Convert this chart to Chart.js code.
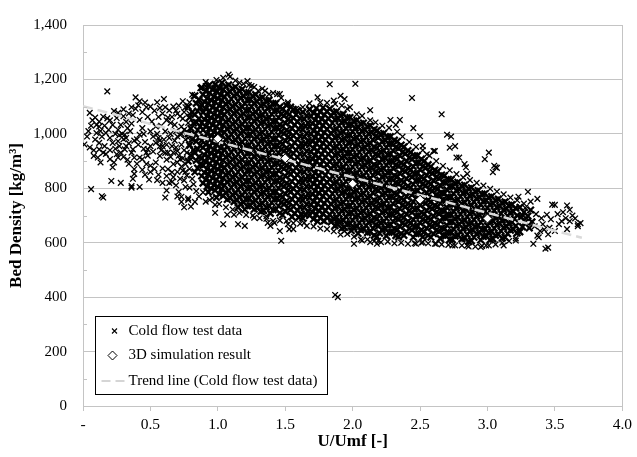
<!DOCTYPE html>
<html>
<head>
  <title>Bed Density vs U/Umf</title>
  <style>
    body { margin: 0; background: #fff; }
    canvas { display: block; }
  </style>
</head>
<body>
  <canvas id="chart" width="637" height="457"></canvas>

  <script src="https://cdn.jsdelivr.net/npm/chart.js"></script>
  <script>
    // Cold flow test data: U/Umf x100, bed density [kg/m3]
    const coldFlowLeft = [
      1,961, 5,1077, 18,1156, 6,797, 15,766, 14,771, 21,827, 28,820, 36,802, 36,808, 37,835, 38,853, 42,805, 49,832,
      61,766, 75,730, 80,733, 78,763, 39,1134, 42,1120, 55,1116, 60,1128, 71,1104, 74,1120, 81,1144, 82,1139, 88,1170,
      23,1084, 26,1077, 10,1033, 12,1027, 9,979, 12,967, 12,943, 15,931, 17,926, 20,907, 23,895, 22,877, 26,913, 28,931,
      22,967, 26,973, 31,997, 32,985, 33,1021, 36,1038, 32,1044, 22,1033, 28,1033, 42,1051, 37,1069, 36,1098, 39,1092,
      44,1080, 47,1098, 48,1062, 51,1045, 56,1062, 54,1027, 50,1009, 44,1021, 42,997, 32,955, 31,943, 37,943, 36,931,
      38,913, 42,913, 44,907, 47,931, 48,943, 50,955, 54,967, 56,985, 61,1009, 60,979, 64,985, 66,955, 67,931, 70,937,
      63,931, 57,919, 54,895, 50,883, 47,889, 53,871, 59,873, 67,889, 70,895, 72,907, 66,859, 67,841, 72,835, 75,829,
      69,811, 76,805, 71,787, 79,802, 61,1098, 64,1086, 66,1062, 70,1074, 74,1056, 76,1098, 79,1116, 79,1074, 68,1033,
      73,1027, 77,1009, 72,997, 76,979, 79,955, 77,931, 80,907, 76,889, 79,871, 74,865, 77,847, 81,835, 12,1045, 15,1063,
      18,1057, 10,1003, 17,1003, 20,985, 11,913, 13,895, 8,919, 4,1010, 7,1050, 25,1058, 30,1065, 45,1000, 58,940, 62,905,
      65,1040, 69,1010, 73,960, 75,940, 78,1040, 63,1060, 58,1030, 52,990, 46,970, 40,980, 35,1010, 29,1000, 26,1015,
      19,1015, 14,990, 27,955, 24,945, 33,905, 40,890, 44,868, 56,850, 62,845, 64,820, 66,823, 62,792, 70,770, 73,750,
      30,1090, 34,1075, 41,1105, 46,1115, 50,1100, 53,1085, 57,1095, 59,1075, 62,1050, 67,1100, 69,1085, 72,1065,
      75,1080, 55,1000, 57,975, 59,955, 62,960, 65,1000, 68,975, 70,990, 73,1000, 75,1015, 78,985, 74,910, 71,920,
      69,950, 65,915, 61,930, 57,955, 52,935, 48,920, 45,945, 41,960, 38,975, 34,965, 30,980, 27,995, 24,1000, 20,1050,
      16,1030, 13,1010, 9,1060, 6,1030, 3,990, 5,950, 8,940, 16,955, 20,940, 25,925, 30,915, 34,890, 38,870, 46,850,
      50,860, 55,830, 59,820, 63,870, 70,860, 73,880, 76,860, 82,815, 84,790, 86,770, 83,750
    ];

    const coldFlowCoreA = [
      78,1100, 81,1080, 79,1060, 82,1040, 80,1020, 78,1000, 81,980, 79,960, 82,940, 80,920, 78,900,
      83,1140, 86,1126, 84,1112, 87,1098, 85,1084, 83,1070, 86,1056, 84,1042, 87,1028, 85,1014, 83,1000, 86,986, 84,972, 87,958, 85,944, 83,930, 86,916, 84,902, 87,888, 85,874, 83,860,
      88,1170, 91,1157, 89,1144, 92,1131, 90,1118, 88,1105, 91,1092, 89,1079, 92,1066, 90,1053, 88,1040, 91,1027, 89,1014, 92,1001, 90,988, 88,975, 91,962, 89,949, 92,936, 90,923, 88,910, 91,897, 89,884, 92,871, 90,858, 88,845, 91,832, 89,819, 92,806,
      93,1176, 96,1163, 94,1150, 97,1137, 95,1124, 93,1111, 96,1098, 94,1085, 97,1072, 95,1059, 93,1046, 96,1033, 94,1020, 97,1007, 95,994, 93,981, 96,968, 94,955, 97,942, 95,929, 93,916, 96,903, 94,890, 97,877, 95,864, 93,851, 96,838, 94,825, 97,812, 95,799, 93,786,
      98,1182, 101,1169, 99,1156, 102,1143, 100,1130, 98,1117, 101,1104, 99,1091, 102,1078, 100,1065, 98,1052, 101,1039, 99,1026, 102,1013, 100,1000, 98,987, 101,974, 99,961, 102,948, 100,935, 98,922, 101,909, 99,896, 102,883, 100,870, 98,857, 101,844, 99,831, 102,818, 100,805, 98,792, 101,779, 99,766,
      103,1188, 106,1175, 104,1162, 107,1149, 105,1136, 103,1123, 106,1110, 104,1097, 107,1084, 105,1071, 103,1058, 106,1045, 104,1032, 107,1019, 105,1006, 103,993, 106,980, 104,967, 107,954, 105,941, 103,928, 106,915, 104,902, 107,889, 105,876, 103,863, 106,850, 104,837, 107,824, 105,811, 103,798, 106,785, 104,772, 107,759,
      108,1180, 111,1167, 109,1154, 112,1141, 110,1128, 108,1115, 111,1102, 109,1089, 112,1076, 110,1063, 108,1050, 111,1037, 109,1024, 112,1011, 110,998, 108,985, 111,972, 109,959, 112,946, 110,933, 108,920, 111,907, 109,894, 112,881, 110,868, 108,855, 111,842, 109,829, 112,816, 110,803, 108,790, 111,777, 109,764, 112,751,
      113,1172, 116,1159, 114,1146, 117,1133, 115,1120, 113,1107, 116,1094, 114,1081, 117,1068, 115,1055, 113,1042, 116,1029, 114,1016, 117,1003, 115,990, 113,977, 116,964, 114,951, 117,938, 115,925, 113,912, 116,899, 114,886, 117,873, 115,860, 113,847, 116,834, 114,821, 117,808, 115,795, 113,782, 116,769, 114,756, 117,743, 115,730,
      118,1164, 121,1151, 119,1138, 122,1125, 120,1112, 118,1099, 121,1086, 119,1073, 122,1060, 120,1047, 118,1034, 121,1021, 119,1008, 122,995, 120,982, 118,969, 121,956, 119,943, 122,930, 120,917, 118,904, 121,891, 119,878, 122,865, 120,852, 118,839, 121,826, 119,813, 122,800, 120,787, 118,774, 121,761, 119,748, 122,735, 120,722,
      123,1152, 126,1139, 124,1126, 127,1113, 125,1100, 123,1087, 126,1074, 124,1061, 127,1048, 125,1035, 123,1022, 126,1009, 124,996, 127,983, 125,970, 123,957, 126,944, 124,931, 127,918, 125,905, 123,892, 126,879, 124,866, 127,853, 125,840, 123,827, 126,814, 124,801, 127,788, 125,775, 123,762, 126,749, 124,736, 127,723,
      128,1144, 131,1131, 129,1118, 132,1105, 130,1092, 128,1079, 131,1066, 129,1053, 132,1040, 130,1027, 128,1014, 131,1001, 129,988, 132,975, 130,962, 128,949, 131,936, 129,923, 132,910, 130,897, 128,884, 131,871, 129,858, 132,845, 130,832, 128,819, 131,806, 129,793, 132,780, 130,767, 128,754, 131,741, 129,728, 132,715,
      133,1134, 136,1121, 134,1108, 137,1095, 135,1082, 133,1069, 136,1056, 134,1043, 137,1030, 135,1017, 133,1004, 136,991, 134,978, 137,965, 135,952, 133,939, 136,926, 134,913, 137,900, 135,887, 133,874, 136,861, 134,848, 137,835, 135,822, 133,809, 136,796, 134,783, 137,770, 135,757, 133,744, 136,731, 134,718,
      138,1124, 141,1111, 139,1098, 142,1085, 140,1072, 138,1059, 141,1046, 139,1033, 142,1020, 140,1007, 138,994, 141,981, 139,968, 142,955, 140,942, 138,929, 141,916, 139,903, 142,890, 140,877, 138,864, 141,851, 139,838, 142,825, 140,812, 138,799, 141,786, 139,773, 142,760, 140,747, 138,734, 141,721, 139,708,
      143,1112, 146,1099, 144,1086, 147,1073, 145,1060, 143,1047, 146,1034, 144,1021, 147,1008, 145,995, 143,982, 146,969, 144,956, 147,943, 145,930, 143,917, 146,904, 144,891, 147,878, 145,865, 143,852, 146,839, 144,826, 147,813, 145,800, 143,787, 146,774, 144,761, 147,748, 145,735, 143,722, 146,709
    ];

    const coldFlowCoreB = [
      151,1104, 154,1098, 156,1090, 159,1086,
      148,1092, 151,1079, 149,1066, 152,1053, 150,1040, 148,1027, 151,1014, 149,1001, 152,988, 150,975, 148,962, 151,949, 149,936, 152,923, 150,910, 148,897, 151,884, 149,871, 152,858, 150,845, 148,832, 151,819, 149,806, 152,793, 150,780, 148,767, 151,754, 149,741, 152,728, 150,715, 148,702,
      153,1072, 156,1059, 154,1046, 157,1033, 155,1020, 153,1007, 156,994, 154,981, 157,968, 155,955, 153,942, 156,929, 154,916, 157,903, 155,890, 153,877, 156,864, 154,851, 157,838, 155,825, 153,812, 156,799, 154,786, 157,773, 155,760, 153,747, 156,734, 154,721, 157,708, 155,695,
      158,1070, 161,1057, 159,1044, 162,1031, 160,1018, 158,1005, 161,992, 159,979, 162,966, 160,953, 158,940, 161,927, 159,914, 162,901, 160,888, 158,875, 161,862, 159,849, 162,836, 160,823, 158,810, 161,797, 159,784, 162,771, 160,758, 158,745, 161,732, 159,719, 162,706, 160,693,
      163,1080, 166,1067, 164,1054, 167,1041, 165,1028, 163,1015, 166,1002, 164,989, 167,976, 165,963, 163,950, 166,937, 164,924, 167,911, 165,898, 163,885, 166,872, 164,859, 167,846, 165,833, 163,820, 166,807, 164,794, 167,781, 165,768, 163,755, 166,742, 164,729, 167,716, 165,703, 163,690,
      168,1090, 171,1077, 169,1064, 172,1051, 170,1038, 168,1025, 171,1012, 169,999, 172,986, 170,973, 168,960, 171,947, 169,934, 172,921, 170,908, 168,895, 171,882, 169,869, 172,856, 170,843, 168,830, 171,817, 169,804, 172,791, 170,778, 168,765, 171,752, 169,739, 172,726, 170,713, 168,700, 171,687,
      173,1094, 176,1081, 174,1068, 177,1055, 175,1042, 173,1029, 176,1016, 174,1003, 177,990, 175,977, 173,964, 176,951, 174,938, 177,925, 175,912, 173,899, 176,886, 174,873, 177,860, 175,847, 173,834, 176,821, 174,808, 177,795, 175,782, 173,769, 176,756, 174,743, 177,730, 175,717, 173,704, 176,691, 174,678,
      178,1096, 181,1083, 179,1070, 182,1057, 180,1044, 178,1031, 181,1018, 179,1005, 182,992, 180,979, 178,966, 181,953, 179,940, 182,927, 180,914, 178,901, 181,888, 179,875, 182,862, 180,849, 178,836, 181,823, 179,810, 182,797, 180,784, 178,771, 181,758, 179,745, 182,732, 180,719, 178,706, 181,693, 179,680,
      183,1092, 186,1079, 184,1066, 187,1053, 185,1040, 183,1027, 186,1014, 184,1001, 187,988, 185,975, 183,962, 186,949, 184,936, 187,923, 185,910, 183,897, 186,884, 184,871, 187,858, 185,845, 183,832, 186,819, 184,806, 187,793, 185,780, 183,767, 186,754, 184,741, 187,728, 185,715, 183,702, 186,689, 184,676, 187,663,
      188,1082, 191,1069, 189,1056, 192,1043, 190,1030, 188,1017, 191,1004, 189,991, 192,978, 190,965, 188,952, 191,939, 189,926, 192,913, 190,900, 188,887, 191,874, 189,861, 192,848, 190,835, 188,822, 191,809, 189,796, 192,783, 190,770, 188,757, 191,744, 189,731, 192,718, 190,705, 188,692, 191,679, 189,666, 192,653,
      193,1072, 196,1059, 194,1046, 197,1033, 195,1020, 193,1007, 196,994, 194,981, 197,968, 195,955, 193,942, 196,929, 194,916, 197,903, 195,890, 193,877, 196,864, 194,851, 197,838, 195,825, 193,812, 196,799, 194,786, 197,773, 195,760, 193,747, 196,734, 194,721, 197,708, 195,695, 193,682, 196,669, 194,656,
      198,1060, 201,1047, 199,1034, 202,1021, 200,1008, 198,995, 201,982, 199,969, 202,956, 200,943, 198,930, 201,917, 199,904, 202,891, 200,878, 198,865, 201,852, 199,839, 202,826, 200,813, 198,800, 201,787, 199,774, 202,761, 200,748, 198,735, 201,722, 199,709, 202,696, 200,683, 198,670, 201,657, 199,644,
      203,1050, 206,1037, 204,1024, 207,1011, 205,998, 203,985, 206,972, 204,959, 207,946, 205,933, 203,920, 206,907, 204,894, 207,881, 205,868, 203,855, 206,842, 204,829, 207,816, 205,803, 203,790, 206,777, 204,764, 207,751, 205,738, 203,725, 206,712, 204,699, 207,686, 205,673, 203,660, 206,647, 204,634,
      208,1040, 211,1027, 209,1014, 212,1001, 210,988, 208,975, 211,962, 209,949, 212,936, 210,923, 208,910, 211,897, 209,884, 212,871, 210,858, 208,845, 211,832, 209,819, 212,806, 210,793, 208,780, 211,767, 209,754, 212,741, 210,728, 208,715, 211,702, 209,689, 212,676, 210,663, 208,650, 211,637,
      213,1030, 216,1017, 214,1004, 217,991, 215,978, 213,965, 216,952, 214,939, 217,926, 215,913, 213,900, 216,887, 214,874, 217,861, 215,848, 213,835, 216,822, 214,809, 217,796, 215,783, 213,770, 216,757, 214,744, 217,731, 215,718, 213,705, 216,692, 214,679, 217,666, 215,653, 213,640, 216,627,
      218,1012, 221,999, 219,986, 222,973, 220,960, 218,947, 221,934, 219,921, 222,908, 220,895, 218,882, 221,869, 219,856, 222,843, 220,830, 218,817, 221,804, 219,791, 222,778, 220,765, 218,752, 221,739, 219,726, 222,713, 220,700, 218,687, 221,674, 219,661, 222,648, 220,635, 218,622,
      223,1002, 226,989, 224,976, 227,963, 225,950, 223,937, 226,924, 224,911, 227,898, 225,885, 223,872, 226,859, 224,846, 227,833, 225,820, 223,807, 226,794, 224,781, 227,768, 225,755, 223,742, 226,729, 224,716, 227,703, 225,690, 223,677, 226,664, 224,651, 227,638, 225,625
    ];

    const coldFlowCoreC = [
      228,990, 231,977, 229,964, 232,951, 230,938, 228,925, 231,912, 229,899, 232,886, 230,873, 228,860, 231,847, 229,834, 232,821, 230,808, 228,795, 231,782, 229,769, 232,756, 230,743, 228,730, 231,717, 229,704, 232,691, 230,678, 228,665, 231,652, 229,639, 232,626,
      233,972, 236,959, 234,946, 237,933, 235,920, 233,907, 236,894, 234,881, 237,868, 235,855, 233,842, 236,829, 234,816, 237,803, 235,790, 233,777, 236,764, 234,751, 237,738, 235,725, 233,712, 236,699, 234,686, 237,673, 235,660, 233,647, 236,634, 234,621,
      238,952, 241,939, 239,926, 242,913, 240,900, 238,887, 241,874, 239,861, 242,848, 240,835, 238,822, 241,809, 239,796, 242,783, 240,770, 238,757, 241,744, 239,731, 242,718, 240,705, 238,692, 241,679, 239,666, 242,653, 240,640, 238,627,
      243,932, 246,919, 244,906, 247,893, 245,880, 243,867, 246,854, 244,841, 247,828, 245,815, 243,802, 246,789, 244,776, 247,763, 245,750, 243,737, 246,724, 244,711, 247,698, 245,685, 243,672, 246,659, 244,646, 247,633, 245,620,
      248,920, 251,907, 249,894, 252,881, 250,868, 248,855, 251,842, 249,829, 252,816, 250,803, 248,790, 251,777, 249,764, 252,751, 250,738, 248,725, 251,712, 249,699, 252,686, 250,673, 248,660, 251,647, 249,634, 252,621,
      253,900, 256,887, 254,874, 257,861, 255,848, 253,835, 256,822, 254,809, 257,796, 255,783, 253,770, 256,757, 254,744, 257,731, 255,718, 253,705, 256,692, 254,679, 257,666, 255,653, 253,640, 256,627,
      258,880, 261,867, 259,854, 262,841, 260,828, 258,815, 261,802, 259,789, 262,776, 260,763, 258,750, 261,737, 259,724, 262,711, 260,698, 258,685, 261,672, 259,659, 262,646, 260,633, 258,620,
      263,862, 266,849, 264,836, 267,823, 265,810, 263,797, 266,784, 264,771, 267,758, 265,745, 263,732, 266,719, 264,706, 267,693, 265,680, 263,667, 266,654, 264,641, 267,628, 265,615,
      268,846, 271,833, 269,820, 272,807, 270,794, 268,781, 271,768, 269,755, 272,742, 270,729, 268,716, 271,703, 269,690, 272,677, 270,664, 268,651, 271,638, 269,625, 272,612,
      273,832, 276,819, 274,806, 277,793, 275,780, 273,767, 276,754, 274,741, 277,728, 275,715, 273,702, 276,689, 274,676, 277,663, 275,650, 273,637, 276,624, 274,611,
      278,822, 281,809, 279,796, 282,783, 280,770, 278,757, 281,744, 279,731, 282,718, 280,705, 278,692, 281,679, 279,666, 282,653, 280,640, 278,627, 281,614,
      283,812, 286,799, 284,786, 287,773, 285,760, 283,747, 286,734, 284,721, 287,708, 285,695, 283,682, 286,669, 284,656, 287,643, 285,630, 283,617, 286,604,
      288,802, 291,789, 289,776, 292,763, 290,750, 288,737, 291,724, 289,711, 292,698, 290,685, 288,672, 291,659, 289,646, 292,633, 290,620, 288,607,
      293,792, 296,779, 294,766, 297,753, 295,740, 293,727, 296,714, 294,701, 297,688, 295,675, 293,662, 296,649, 294,636, 297,623, 295,610,
      298,780, 301,767, 299,754, 302,741, 300,728, 298,715, 301,702, 299,689, 302,676, 300,663, 298,650, 301,637, 299,624, 302,611,
      303,770, 306,757, 304,744, 307,731, 305,718, 303,705, 306,692, 304,679, 307,666, 305,653, 303,640, 306,627, 304,614,
      308,760, 311,747, 309,734, 312,721, 310,708, 308,695, 311,682, 309,669, 312,656, 310,643, 308,630, 311,617,
      313,750, 316,737, 314,724, 317,711, 315,698, 313,685, 316,672, 314,659, 317,646, 315,633, 313,620,
      318,740, 321,727, 319,714, 322,701, 320,688, 318,675, 321,662, 319,649, 322,636,
      324,730, 327,712, 325,694, 328,676, 326,658, 324,640, 332,720, 330,698, 333,676, 331,654
    ];

    const coldFlowEdge = [
      108,1218, 109,1210, 116,1188, 122,1194, 123,1179, 144,1146, 146,1146, 152,1116, 174,1134, 183,1182, 202,1184,
      186,1122, 191,1140, 194,1128, 198,1098, 213,1087, 228,1051, 235,1051, 244,1132, 245,1021, 232,1033, 250,991,
      252,955, 260,937, 255,925, 261,937, 266,1072, 270,997, 273,990, 272,949, 276,955, 277,913, 279,913, 283,889,
      284,877, 285,853, 301,931, 298,907, 305,883, 306,877, 304,859, 307,875, 87,1168, 91,1176, 94,1182, 98,1170,
      102,1165, 125,1176, 130,1158, 138,1146, 135,1158,
      91,1190, 99,1198, 104,1206, 113,1196, 119,1184, 127,1172, 133,1166, 141,1150, 147,1132, 152,1110, 158,1092,
      163,1098, 168,1112, 176,1116, 181,1114, 187,1110, 192,1104, 196,1092, 203,1072, 207,1066, 213,1050, 217,1042,
      222,1030, 227,1022, 233,1008, 237,990, 242,970, 247,952, 252,940, 257,920, 262,900, 267,882, 272,866, 277,852,
      282,840, 287,830, 292,820, 297,810, 302,798, 307,788, 312,778, 317,766, 322,756, 327,744,
      98,710, 104,668, 115,668, 120,662, 107,703, 112,703, 127,692, 137,673, 139,662, 146,643, 152,668, 153,650,
      147,607, 156,650, 164,673, 171,685, 178,679, 184,685, 190,673, 195,697, 136,697, 142,673, 73,769, 78,757,
      91,751, 94,757, 98,739, 201,596, 207,608, 213,602, 219,608, 218,596, 247,596, 252,602, 262,596, 274,590,
      285,590, 189,679, 194,643, 199,655, 295,584, 299,590, 312,590, 321,608, 337,626,
      89,785, 96,764, 101,742, 106,730, 111,722, 116,710, 121,702, 126,700, 131,690, 136,688, 141,680, 146,682,
      151,680, 156,672, 161,670, 166,662, 171,660, 176,652, 181,650, 186,642, 191,630, 196,632, 201,622, 206,612,
      211,612, 216,606, 221,602, 226,604, 231,598, 236,600, 241,596, 246,598, 251,600, 256,598, 261,596, 266,594,
      271,592, 276,590, 281,590, 286,586, 291,586, 296,588, 301,590, 306,594, 311,600, 316,606, 321,616
    ];

    const coldFlowRight = [
      330,787, 337,761, 350,739, 359,737, 361,721, 367,668, 367,661, 361,679, 355,679, 359,650, 348,740, 344,703,
      345,631, 343,578, 345,582, 338,620, 334,596, 332,751, 323,769, 328,728, 333,679, 341,668, 347,686, 353,668,
      339,643, 350,643, 358,690, 352,705, 356,712, 363,700, 365,689, 369,672, 340,690, 336,705, 326,700, 329,690,
      335,660, 342,648, 346,655, 187,408, 189,400
    ];

    // 3D simulation result
    const simX = [1.0, 1.5, 2.0, 2.5, 3.0];
    const simY = [982, 910, 817, 758, 689];

    // Trend line (cold flow test data), end points
    const trendX = [0, 3.7];
    const trendY = [1102, 618];

    const xTickMin = 0, xTickMax = 4, xTickStep = 0.5;
    const yTickMin = 0, yTickMax = 1400, yTickStep = 200;

    function pairsToPoints(arr) {
      const pts = [];
      for (let i = 0; i < arr.length; i += 2) {
        pts.push({ x: arr[i] / 100, y: arr[i + 1] });
      }
      return pts;
    }

    const leftPts = pairsToPoints(coldFlowLeft);
    const corePts = [].concat(
      pairsToPoints(coldFlowCoreA),
      pairsToPoints(coldFlowCoreB),
      pairsToPoints(coldFlowCoreC)
    );
    const coreStart = leftPts.length;
    const coreEnd = coreStart + corePts.length;
    const coldPoints = [].concat(
      leftPts,
      corePts,
      pairsToPoints(coldFlowEdge),
      pairsToPoints(coldFlowRight)
    );
    const simPoints = simX.map((x, i) => ({ x: x, y: simY[i] }));
    const trendPoints = trendX.map((x, i) => ({ x: x, y: trendY[i] }));

    const serif = "'Liberation Serif', 'Times New Roman', serif";
    const lineGray = '#c4c4c4';

    // the crowded middle of the cloud overlaps so much it reads as solid
    const crossWidth = (c) => (c.dataIndex >= coreStart && c.dataIndex < coreEnd) ? 2.3 : 1.3;
    const crossRadius = (c) => (c.dataIndex >= coreStart && c.dataIndex < coreEnd) ? 4.6 : 4;

    // small inward ticks between the labelled y values
    const minorTicks = {
      id: 'minorTicks',
      afterDraw(chart) {
        const ctx = chart.ctx;
        const y = chart.scales.y;
        const left = chart.chartArea.left;
        ctx.save();
        ctx.strokeStyle = lineGray;
        ctx.lineWidth = 1;
        for (let v = yTickMin + yTickStep / 2; v < yTickMax; v += yTickStep) {
          const py = Math.round(y.getPixelForValue(v)) + 0.5;
          ctx.beginPath();
          ctx.moveTo(left, py);
          ctx.lineTo(left + 4, py);
          ctx.stroke();
        }
        ctx.restore();
      }
    };

    // boxed legend in the lower left of the plot
    const boxLegend = {
      id: 'boxLegend',
      afterDraw(chart) {
        const ctx = chart.ctx;
        const area = chart.chartArea;
        const sets = chart.data.datasets;
        const bx = Math.round(area.left + 12) + 0.5;
        const by = Math.round(area.bottom - 90) + 0.5;
        const bw = 232, bh = 78;
        ctx.save();
        ctx.fillStyle = '#fff';
        ctx.fillRect(bx, by, bw, bh);
        ctx.strokeStyle = '#000';
        ctx.lineWidth = 1;
        ctx.strokeRect(bx, by, bw, bh);

        ctx.font = '15px ' + serif;
        ctx.fillStyle = '#000';
        ctx.textBaseline = 'middle';
        const tx = bx + 33;
        const rows = [by + 14.5, by + 39, by + 64.5];

        // cross
        let cx = bx + 19, cy = rows[0];
        ctx.lineWidth = 1.1;
        ctx.beginPath();
        ctx.moveTo(cx - 2.5, cy - 2.5); ctx.lineTo(cx + 2.5, cy + 2.5);
        ctx.moveTo(cx + 2.5, cy - 2.5); ctx.lineTo(cx - 2.5, cy + 2.5);
        ctx.stroke();
        ctx.fillText(sets[0].label, tx, rows[0]);

        // diamond
        cx = bx + 17; cy = rows[1];
        ctx.lineWidth = 1;
        ctx.beginPath();
        ctx.moveTo(cx, cy - 4.5); ctx.lineTo(cx + 4.5, cy); ctx.lineTo(cx, cy + 4.5); ctx.lineTo(cx - 4.5, cy);
        ctx.closePath();
        ctx.fillStyle = '#fff';
        ctx.fill();
        ctx.stroke();
        ctx.fillStyle = '#000';
        ctx.fillText(sets[2].label, tx, rows[1]);

        // dashed line
        cy = rows[2];
        ctx.strokeStyle = '#c8c8c8';
        ctx.lineWidth = 1.5;
        ctx.setLineDash([9, 5]);
        ctx.beginPath();
        ctx.moveTo(bx + 6, cy); ctx.lineTo(bx + 31, cy);
        ctx.stroke();
        ctx.setLineDash([]);
        ctx.fillText(sets[1].label, tx, rows[2]);
        ctx.restore();
      }
    };

    new Chart(document.getElementById('chart'), {
      type: 'scatter',
      data: {
        datasets: [
          {
            label: 'Cold flow test data',
            data: coldPoints,
            pointStyle: 'crossRot',
            pointRadius: crossRadius,
            borderColor: '#000',
            backgroundColor: '#000',
            pointBorderWidth: crossWidth,
            order: 3
          },
          {
            label: 'Trend line (Cold flow test data)',
            data: trendPoints,
            showLine: true,
            borderColor: '#dadada',
            borderWidth: 2.5,
            borderDash: [10, 5],
            pointRadius: 0,
            fill: false,
            order: 2
          },
          {
            label: '3D simulation result',
            data: simPoints,
            pointStyle: 'rectRot',
            pointRadius: 4.5,
            backgroundColor: '#fff',
            borderColor: '#000',
            borderWidth: 1,
            order: 1
          }
        ]
      },
      options: {
        responsive: false,
        animation: false,
        events: [],
        layout: { padding: { top: 16, right: 11, left: 0, bottom: 0 } },
        plugins: {
          legend: { display: false },
          tooltip: { enabled: false }
        },
        scales: {
          x: {
            type: 'linear',
            min: xTickMin,
            max: xTickMax,
            ticks: {
              stepSize: xTickStep,
              padding: 5,
              color: '#000',
              font: { family: serif, size: 15.5 },
              callback: (v) => v === 0 ? '-' : v.toFixed(1)
            },
            grid: {
              color: (c) => (c.tick && c.tick.value === xTickMax) ? lineGray : 'rgba(0,0,0,0)',
              tickColor: lineGray,
              tickLength: 5,
              drawTicks: true
            },
            border: { color: lineGray },
            title: {
              display: true,
              text: 'U/Umf [-]',
              color: '#000',
              font: { family: serif, size: 17, weight: 'bold' },
              padding: { top: 0, bottom: 5 }
            },
            afterFit(scale) { scale.height = 51; }
          },
          y: {
            min: yTickMin,
            max: yTickMax,
            ticks: {
              stepSize: yTickStep,
              padding: 16,
              color: '#000',
              font: { family: serif, size: 15 },
              callback: (v) => v.toLocaleString('en-US')
            },
            grid: { color: lineGray, drawTicks: false },
            border: { color: lineGray },
            title: {
              display: true,
              text: 'Bed Density [kg/m³]',
              color: '#000',
              font: { family: serif, size: 17, weight: 'bold' },
              padding: { top: 6, bottom: 0 }
            },
            afterFit(scale) { scale.width = 83; }
          }
        }
      },
      plugins: [minorTicks, boxLegend]
    });
  </script>
</body>
</html>
